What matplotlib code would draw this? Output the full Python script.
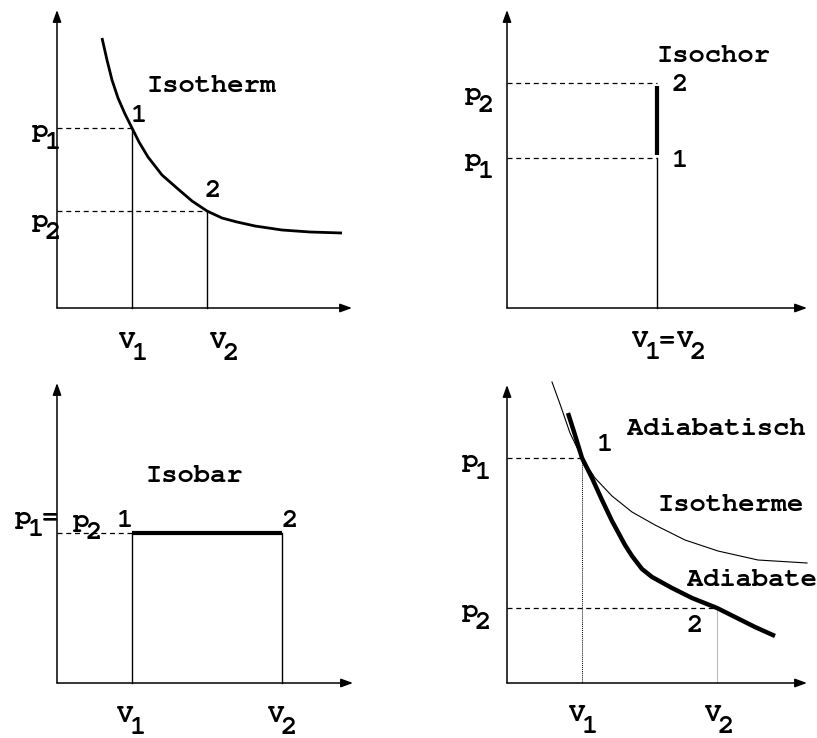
import matplotlib
matplotlib.use("Agg")
import matplotlib.pyplot as plt

plt.rcParams['font.family'] = 'monospace'
plt.rcParams['font.monospace'] = ['Nimbus Mono PS', 'FreeMono', 'Liberation Mono', 'DejaVu Sans Mono']
plt.rcParams['font.weight'] = 'bold'

FS = 19.5

# Isotherm (top left)
iso_V1, iso_V2 = 75, 150
iso_p1, iso_p2 = 180, 97
iso_V = [45, 50, 55, 61, 68, 75, 82, 91, 105, 121, 135, 150, 165, 180, 198, 225, 253, 285]
iso_p = [270, 248, 228, 210, 194, 180, 166, 151, 133, 119, 107, 97, 90, 86, 82, 78, 76, 75]

# Isochor (top right)
chor_V = 150
chor_p1, chor_p2 = 150, 225

# Isobar (bottom left)
bar_V1, bar_V2 = 75, 225
bar_p = 150

# Adiabatisch (bottom right)
ad_V1, ad_V2 = 75, 210
ad_p1, ad_p2 = 225, 75
ad_iso_V = [45, 53, 63, 75, 88, 105, 125, 148, 178, 211, 251, 300]
ad_iso_p = [301, 279, 250, 225, 205, 187, 171, 158, 143, 132, 123, 120]
ad_V = [61, 68, 75, 85, 95, 105, 118, 125, 135, 145, 165, 185, 210, 230, 248, 268]
ad_p = [270, 248, 225, 205, 183, 162, 138, 127, 114, 106, 95, 85, 75, 65, 56, 47]

fig = plt.figure(figsize=(8.17, 7.38), dpi=100)


def panel(ox, oy):
    ax = fig.add_axes([(ox - 57) / 817, (738 - oy - 55) / 738, 367 / 817, 363 / 738])
    ax.set_xlim(-57, 310)
    ax.set_ylim(-55, 308)
    ax.axis('off')
    return ax


def arrows(ax, xmax, ymax):
    kw = dict(arrowstyle='-|>,head_length=0.55,head_width=0.2', lw=1.1, color='k',
              mutation_scale=13, shrinkA=0, shrinkB=0)
    ax.annotate('', xy=(xmax, 0), xytext=(0, 0), arrowprops=kw)
    ax.annotate('', xy=(0, ymax), xytext=(0, 0), arrowprops=kw)


def sym(ax, x, y, main, sub):
    # letter with its index set lower right
    ax.text(x, y, main, ha='center', va='baseline', fontsize=FS)
    ax.text(x + 13, y - 12, sub, ha='center', va='baseline', fontsize=FS)


def txt(ax, x, y, s):
    ax.text(x, y, s, ha='center', va='baseline', fontsize=FS)


dash = dict(color='k', lw=0.9, linestyle=(0, (4, 3)))
thin = dict(color='k', lw=1.0)

# --- Isotherm
ax = panel(57, 308)
arrows(ax, 295, 298)
ax.plot([0, iso_V1], [iso_p1, iso_p1], **dash)
ax.plot([0, iso_V2], [iso_p2, iso_p2], **dash)
ax.plot([iso_V1, iso_V1], [0, iso_p1], **thin)
ax.plot([iso_V2, iso_V2], [0, iso_p2], **thin)
ax.plot(iso_V, iso_p, color='k', lw=2.0, solid_capstyle='butt', solid_joinstyle='round')
txt(ax, 155, 216, 'Isotherm')
txt(ax, 82, 186, '1')
txt(ax, 156, 111, '2')
sym(ax, -17, 171, 'p', '1')
sym(ax, -17, 81, 'p', '2')
sym(ax, 70, -40, 'V', '1')
sym(ax, 161, -40, 'V', '2')

# --- Isochor
ax = panel(507, 308)
arrows(ax, 300, 298)
ax.plot([0, chor_V], [chor_p1, chor_p1], **dash)
ax.plot([0, chor_V], [chor_p2, chor_p2], **dash)
ax.plot([chor_V, chor_V], [0, chor_p1], **thin)
ax.plot([chor_V, chor_V], [chor_p1 + 3, chor_p2 - 3], color='k', lw=3.0, solid_capstyle='butt')
txt(ax, 207, 246, 'Isochor')
txt(ax, 173, 217, '2')
txt(ax, 173, 141, '1')
sym(ax, -34, 208, 'p', '2')
sym(ax, -34, 142, 'p', '1')
sym(ax, 133, -39, 'V', '1')
txt(ax, 160, -39, '=')
sym(ax, 178, -39, 'V', '2')

# --- Isobar
ax = panel(57, 683)
arrows(ax, 296, 300)
ax.plot([0, bar_V1], [bar_p, bar_p], **dash)
ax.plot([bar_V1, bar_V1], [0, bar_p], **thin)
ax.plot([bar_V2, bar_V2], [0, bar_p], **thin)
ax.plot([bar_V1, bar_V2], [bar_p, bar_p], color='k', lw=3.0, solid_capstyle='butt')
txt(ax, 137, 201, 'Isobar')
txt(ax, 68, 156, '1')
txt(ax, 233, 156, '2')
sym(ax, -34, 159, 'p', '1')
txt(ax, -7, 159, '=')
sym(ax, 24, 156, 'p', '2')
sym(ax, 68, -39, 'V', '1')
sym(ax, 219, -39, 'V', '2')

# --- Adiabatisch
ax = panel(507, 683)
arrows(ax, 300, 298)
ax.plot([0, ad_V1], [ad_p1, ad_p1], **dash)
ax.plot([0, ad_V2], [ad_p2, ad_p2], **dash)
ax.plot([ad_V1, ad_V1], [0, ad_p1], color='k', lw=0.7, linestyle=(0, (1, 1)))
ax.plot([ad_V2, ad_V2], [0, ad_p2], color='#bbbbbb', lw=0.8)
ax.plot(ad_iso_V, ad_iso_p, color='k', lw=0.8, solid_joinstyle='round')
ax.plot(ad_V, ad_p, color='k', lw=3.2, solid_capstyle='butt', solid_joinstyle='round')
txt(ax, 209, 248, 'Adiabatisch')
txt(ax, 98, 232, '1')
txt(ax, 224, 172, 'Isotherme')
txt(ax, 245, 97, 'Adiabate')
txt(ax, 188, 51, '2')
sym(ax, -37, 216, 'p', '1')
sym(ax, -37, 66, 'p', '2')
sym(ax, 70, -38, 'V', '1')
sym(ax, 206, -38, 'V', '2')

fig.savefig('out.png', dpi=100)
